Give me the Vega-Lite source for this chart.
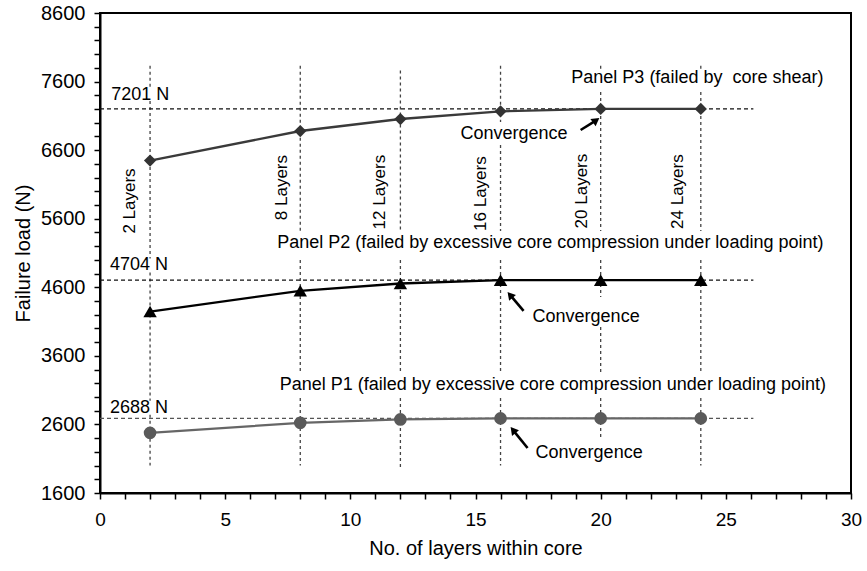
{
  "$schema": "https://vega.github.io/schema/vega-lite/v6.json",
  "width": 751,
  "height": 480,
  "autosize": {"type": "none"},
  "padding": {"left": 100, "top": 13, "right": 16, "bottom": 78},
  "background": "white",
  "config": {
    "font": "Liberation Sans",
    "view": {"stroke": "#000", "strokeWidth": 2},
    "text": {"font": "Liberation Sans", "fontSize": 18, "color": "#000"}
  },
  "datasets": {
    "loads": [
      {"panel": "P1", "layers": 2, "load": 2477},
      {"panel": "P1", "layers": 8, "load": 2623},
      {"panel": "P1", "layers": 12, "load": 2673},
      {"panel": "P1", "layers": 16, "load": 2688},
      {"panel": "P1", "layers": 20, "load": 2688},
      {"panel": "P1", "layers": 24, "load": 2688},
      {"panel": "P2", "layers": 2, "load": 4246},
      {"panel": "P2", "layers": 8, "load": 4549},
      {"panel": "P2", "layers": 12, "load": 4655},
      {"panel": "P2", "layers": 16, "load": 4704},
      {"panel": "P2", "layers": 20, "load": 4704},
      {"panel": "P2", "layers": 24, "load": 4704},
      {"panel": "P3", "layers": 2, "load": 6448},
      {"panel": "P3", "layers": 8, "load": 6879},
      {"panel": "P3", "layers": 12, "load": 7054},
      {"panel": "P3", "layers": 16, "load": 7166},
      {"panel": "P3", "layers": 20, "load": 7201},
      {"panel": "P3", "layers": 24, "load": 7201}
    ],
    "layerGuides": [
      {"layers": 2, "load": 7830, "load_end": 7505},
      {"layers": 2, "load": 7316, "load_end": 5020},
      {"layers": 2, "load": 4816, "load_end": 2946},
      {"layers": 2, "load": 2742, "load_end": 2000},
      {"layers": 8, "load": 7830, "load_end": 5421},
      {"layers": 8, "load": 4998, "load_end": 3365},
      {"layers": 8, "load": 2985, "load_end": 2000},
      {"layers": 12, "load": 7760, "load_end": 5421},
      {"layers": 12, "load": 4998, "load_end": 3365},
      {"layers": 12, "load": 2985, "load_end": 1950},
      {"layers": 16, "load": 7830, "load_end": 7009},
      {"layers": 16, "load": 6674, "load_end": 5421},
      {"layers": 16, "load": 4998, "load_end": 3365},
      {"layers": 16, "load": 2985, "load_end": 2000},
      {"layers": 20, "load": 7830, "load_end": 7783},
      {"layers": 20, "load": 7448, "load_end": 5421},
      {"layers": 20, "load": 4998, "load_end": 4458},
      {"layers": 20, "load": 4021, "load_end": 3365},
      {"layers": 20, "load": 2985, "load_end": 2413},
      {"layers": 24, "load": 7830, "load_end": 7783},
      {"layers": 24, "load": 7448, "load_end": 5421},
      {"layers": 24, "load": 4998, "load_end": 3365},
      {"layers": 24, "load": 2985, "load_end": 2000}
    ],
    "convergedLoads": [
      {"panel": "P3", "layers": 0, "layers_end": 26.1, "load": 7201},
      {"panel": "P2", "layers": 0, "layers_end": 26.1, "load": 4704},
      {"panel": "P1", "layers": 0, "layers_end": 26.1, "load": 2688}
    ],
    "arrows": [
      {"panel": "P3", "layers": 19.2, "load": 6894, "layers_end": 19.82, "load_end": 7035, "angle": 54},
      {"panel": "P2", "layers": 16.92, "load": 4256, "layers_end": 16.38, "load_end": 4488, "angle": 320},
      {"panel": "P1", "layers": 17.08, "load": 2256, "layers_end": 16.5, "load_end": 2517, "angle": 321}
    ],
    "leftNotes": [
      {"layers": 0.45, "load": 7405, "text": "7201 N"},
      {"layers": 0.4, "load": 4918, "text": "4704 N"},
      {"layers": 0.4, "load": 2844, "text": "2688 N"},
      {"layers": 14.4, "load": 6835, "text": "Convergence"},
      {"layers": 17.28, "load": 4168, "text": "Convergence"},
      {"layers": 17.4, "load": 2188, "text": "Convergence"}
    ],
    "panelNotes": [
      {"layers": 28.9, "load": 7652, "text": "Panel P3 (failed by \u00a0core shear)"},
      {"layers": 28.9, "load": 5246, "text": "Panel P2 (failed by excessive core compression under loading point)"},
      {"layers": 29.0, "load": 3175, "text": "Panel P1 (failed by excessive core compression under loading point)"}
    ],
    "layerNotes": [
      {"layers": 1.2, "load": 5858, "text": "2 Layers"},
      {"layers": 7.26, "load": 6054, "text": "8 Layers"},
      {"layers": 11.2, "load": 5988, "text": "12 Layers"},
      {"layers": 15.2, "load": 5966, "text": "16 Layers"},
      {"layers": 19.24, "load": 6003, "text": "20 Layers"},
      {"layers": 23.08, "load": 5995, "text": "24 Layers"}
    ]
  },
  "encoding": {
    "x": {
      "field": "layers",
      "type": "quantitative",
      "scale": {"domain": [0, 30], "nice": false, "zero": false},
      "axis": {
        "title": "No. of layers within core",
        "values": [0,1,2,3,4,5,6,7,8,9,10,11,12,13,14,15,16,17,18,19,20,21,22,23,24,25,26,27,28,29,30],
        "labelExpr": "datum.value % 5 === 0 ? datum.label : ''",
        "labelFlush": false,
        "labelOverlap": false,
        "labelFontSize": 19,
        "labelPadding": 11,
        "labelColor": "#000",
        "tickSize": 6,
        "tickWidth": 1.5,
        "tickColor": "#000",
        "domainColor": "#000",
        "domainWidth": 2,
        "grid": false,
        "titleFontSize": 20,
        "titleFontWeight": "normal",
        "titleColor": "#000",
        "titlePadding": 9
      }
    },
    "y": {
      "field": "load",
      "type": "quantitative",
      "scale": {"domain": [1600, 8600], "nice": false, "zero": false},
      "axis": {
        "title": "Failure load (N)",
        "values": [1600,1800,2000,2200,2400,2600,2800,3000,3200,3400,3600,3800,4000,4200,4400,4600,4800,5000,5200,5400,5600,5800,6000,6200,6400,6600,6800,7000,7200,7400,7600,7800,8000,8200,8400,8600],
        "labelExpr": "(datum.value - 1600) % 1000 === 0 ? datum.label : ''",
        "format": "d",
        "labelOverlap": false,
        "labelFontSize": 20,
        "labelPadding": 9,
        "labelColor": "#000",
        "tickSize": 6,
        "tickWidth": 1.5,
        "tickColor": "#000",
        "domainColor": "#000",
        "domainWidth": 2,
        "grid": false,
        "titleFontSize": 20,
        "titleFontWeight": "normal",
        "titleColor": "#000",
        "titlePadding": 7
      }
    }
  },
  "layer": [
    {
      "data": {"name": "layerGuides"},
      "mark": {"type": "rule", "color": "#444", "strokeWidth": 1.3, "strokeDash": [3, 3]},
      "encoding": {"y2": {"field": "load_end"}}
    },
    {
      "data": {"name": "convergedLoads"},
      "mark": {"type": "rule", "strokeWidth": 1.2, "strokeDash": [4, 3]},
      "encoding": {
        "x2": {"field": "layers_end"},
        "color": {
          "field": "panel",
          "type": "nominal",
          "scale": {"domain": ["P1", "P2", "P3"], "range": ["#555555", "#111111", "#111111"]},
          "legend": null
        }
      }
    },
    {
      "data": {"name": "loads"},
      "mark": {"type": "line", "strokeWidth": 2.3},
      "encoding": {
        "color": {
          "field": "panel",
          "type": "nominal",
          "scale": {"domain": ["P1", "P2", "P3"], "range": ["#666666", "#000000", "#3a3a3a"]},
          "legend": null
        }
      }
    },
    {
      "data": {"name": "loads"},
      "transform": [{"filter": "datum.panel === 'P1'"}],
      "mark": {"type": "point", "shape": "circle", "filled": true, "color": "#5a5a5a", "opacity": 1, "size": 160}
    },
    {
      "data": {"name": "loads"},
      "transform": [{"filter": "datum.panel === 'P2'"}],
      "mark": {"type": "point", "shape": "triangle-up", "filled": true, "color": "#000", "opacity": 1, "size": 180}
    },
    {
      "data": {"name": "loads"},
      "transform": [{"filter": "datum.panel === 'P3'"}],
      "mark": {"type": "point", "shape": "diamond", "filled": true, "color": "#333", "opacity": 1, "size": 150}
    },
    {
      "data": {"name": "arrows"},
      "mark": {"type": "rule", "color": "#000", "strokeWidth": 2.6},
      "encoding": {"x2": {"field": "layers_end"}, "y2": {"field": "load_end"}}
    },
    {
      "data": {"name": "arrows"},
      "mark": {"type": "point", "shape": "triangle-up", "filled": true, "color": "#000", "opacity": 1, "size": 80},
      "encoding": {
        "x": {"field": "layers_end", "type": "quantitative"},
        "y": {"field": "load_end", "type": "quantitative"},
        "angle": {"field": "angle", "type": "quantitative", "scale": null}
      }
    },
    {
      "data": {"name": "leftNotes"},
      "mark": {"type": "text", "align": "left", "baseline": "middle", "fontSize": 18},
      "encoding": {"text": {"field": "text"}}
    },
    {
      "data": {"name": "panelNotes"},
      "mark": {"type": "text", "align": "right", "baseline": "middle", "fontSize": 18},
      "encoding": {"text": {"field": "text"}}
    },
    {
      "data": {"name": "layerNotes"},
      "mark": {"type": "text", "align": "center", "baseline": "middle", "angle": 270, "fontSize": 17},
      "encoding": {"text": {"field": "text"}}
    }
  ],
  "resolve": {"scale": {"color": "independent"}}
}
